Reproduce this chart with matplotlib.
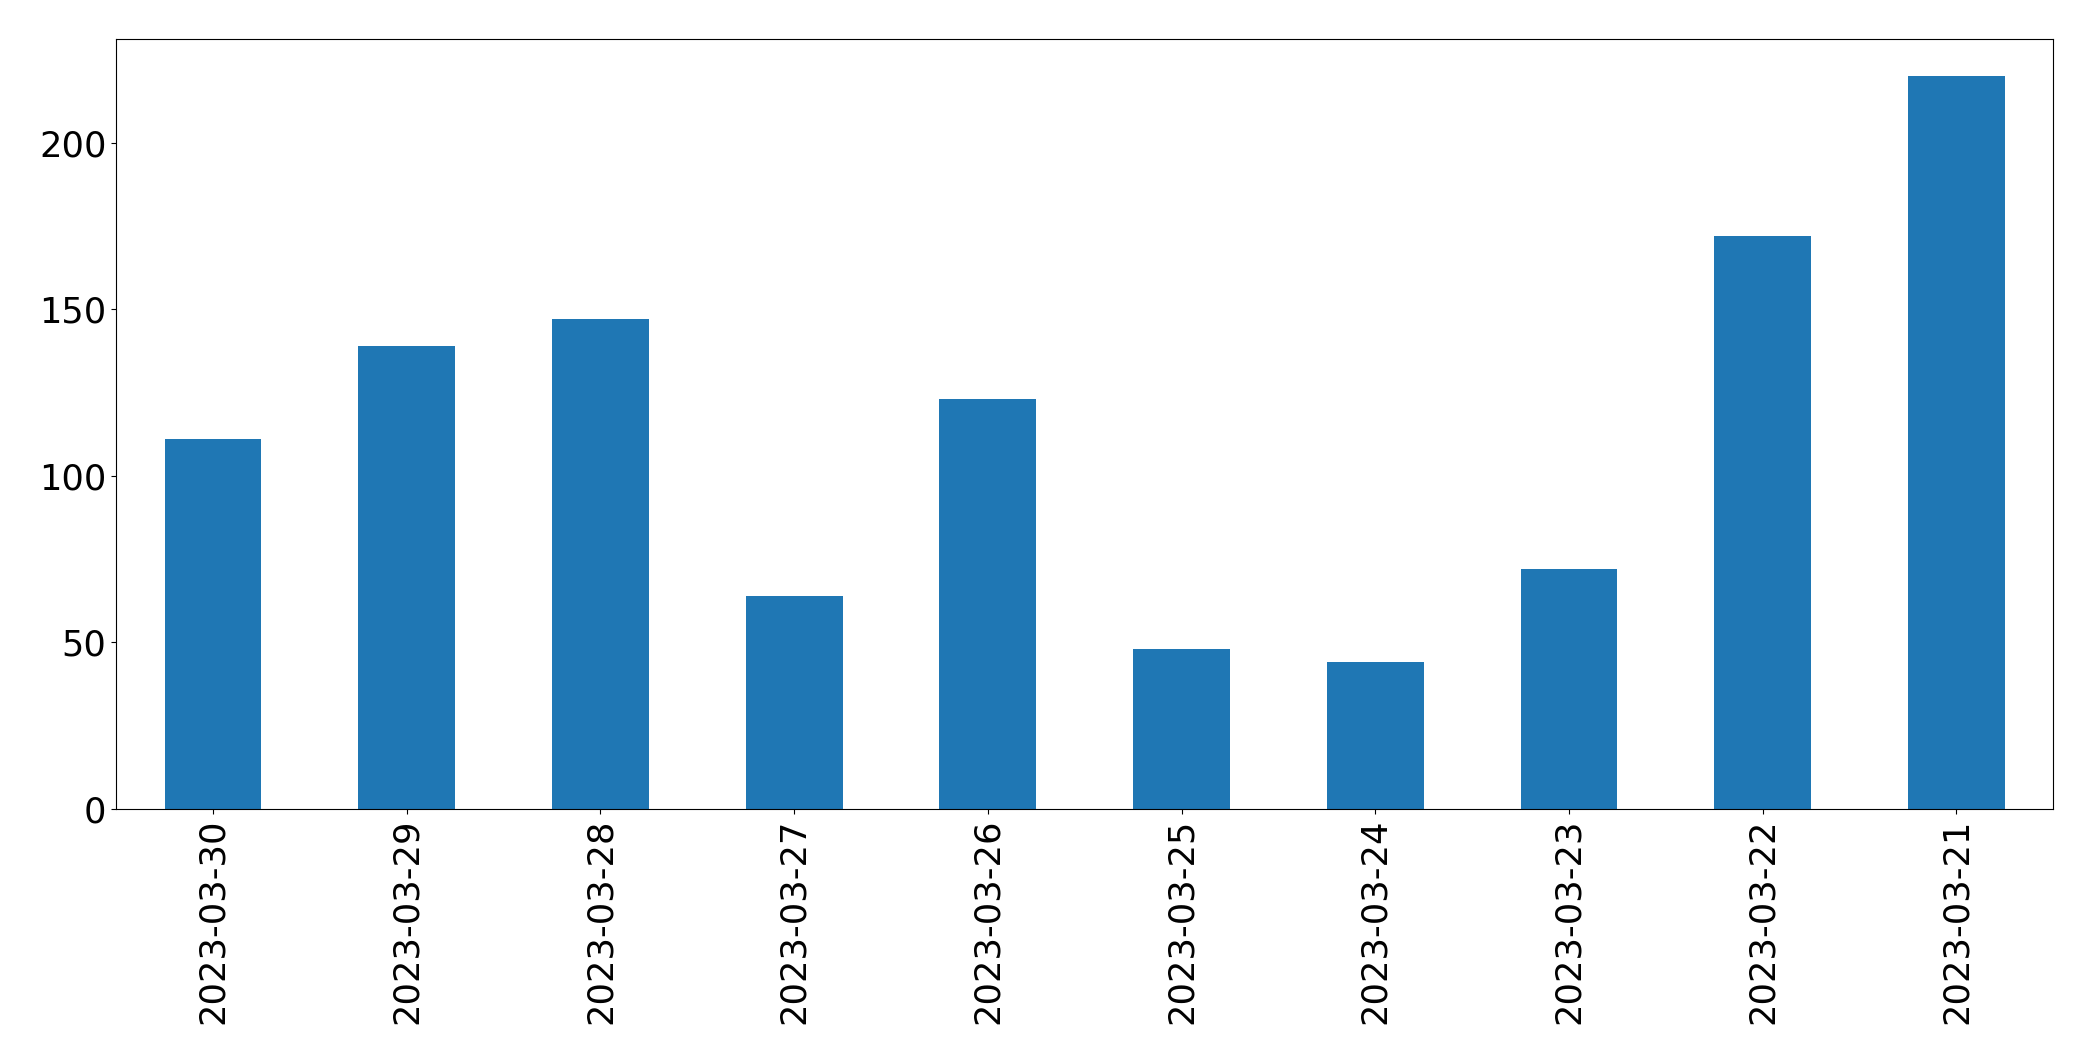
import matplotlib
matplotlib.use("Agg")
import matplotlib.pyplot as plt

dates = ["2023-03-30", "2023-03-29", "2023-03-28", "2023-03-27", "2023-03-26",
         "2023-03-25", "2023-03-24", "2023-03-23", "2023-03-22", "2023-03-21"]
counts = [111, 139, 147, 64, 123, 48, 44, 72, 172, 220]

fig = plt.figure(figsize=(20.93, 10.61), dpi=100)
ax = fig.add_axes([0.0555, 0.2375, 0.9255, 0.7255])
x = range(len(dates))
ax.bar(x, counts, width=0.5, color="#1f77b4")
ax.set_xlim(-0.5, len(dates) - 0.5)
ax.set_xticks(list(x))
ax.set_xticklabels(dates, rotation=90)
ax.set_yticks([0, 50, 100, 150, 200])
ax.tick_params(labelsize=25.4)
fig.savefig("out.png", dpi=100)
